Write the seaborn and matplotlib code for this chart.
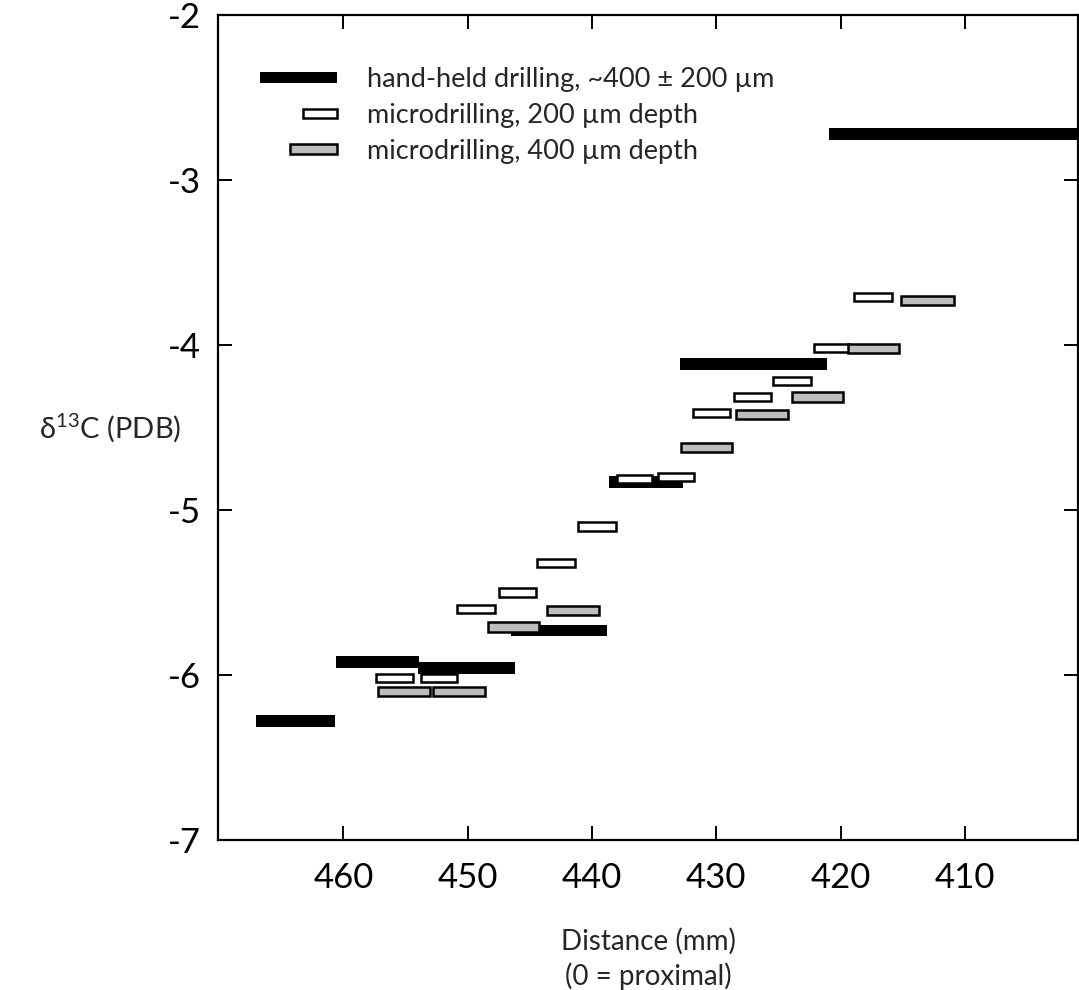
import numpy as np
import seaborn as sns
import matplotlib
matplotlib.use("Agg")
import matplotlib.pyplot as plt
from matplotlib.patches import Rectangle
from matplotlib.legend_handler import HandlerPatch

# hand-held drilling: distance range (mm) and d13C
hand_start = [467.0, 460.6, 454.0, 446.5, 438.6, 432.9, 420.9]
hand_end = [460.7, 453.9, 446.2, 438.8, 432.7, 421.1, 401.0]
hand_d13c = [-6.28, -5.92, -5.955, -5.73, -4.83, -4.115, -2.72]

# microdrilling, 200 um depth
micro200_start = [457.4, 453.8, 450.9, 447.5, 444.4, 441.1, 438.0, 434.7, 431.9, 428.6, 425.4, 422.1, 418.9]
micro200_end = [454.4, 450.9, 447.8, 444.5, 441.4, 438.1, 435.2, 431.8, 428.9, 425.6, 422.4, 419.3, 415.9]
micro200_d13c = [-6.02, -6.02, -5.60, -5.50, -5.32, -5.10, -4.81, -4.80, -4.41, -4.315, -4.22, -4.02, -3.71]

# microdrilling, 400 um depth
micro400_start = [457.2, 452.8, 448.4, 443.6, 432.8, 428.4, 423.9, 419.4, 415.1]
micro400_end = [453.0, 448.6, 444.3, 439.4, 428.7, 424.2, 419.8, 415.3, 410.9]
micro400_d13c = [-6.10, -6.10, -5.71, -5.61, -4.62, -4.42, -4.315, -4.02, -3.73]

labels = ["hand-held drilling, ~400 ± 200 µm",
          "microdrilling, 200 µm depth",
          "microdrilling, 400 µm depth"]

sns.set_style("ticks")
plt.rcParams['font.family'] = ['Lato', 'DejaVu Sans']
plt.rcParams['mathtext.fontset'] = 'custom'
plt.rcParams['mathtext.rm'] = 'Lato'
plt.rcParams['axes.unicode_minus'] = False

fig = plt.figure(figsize=(10.79, 9.9), dpi=100)
ax = fig.add_axes([0.202, 0.1515, 0.797, 0.8333])

gray = "#bdbdbd"

ax.barh(hand_d13c, np.subtract(hand_end, hand_start), left=hand_start,
        height=0.072, color="black", linewidth=0)
ax.barh(micro200_d13c, np.subtract(micro200_end, micro200_start), left=micro200_start,
        height=0.05, facecolor="white", edgecolor="black", linewidth=1.8)
ax.barh(micro400_d13c, np.subtract(micro400_end, micro400_start), left=micro400_start,
        height=0.058, facecolor=gray, edgecolor="black", linewidth=1.8)

ax.set_xlim(470.1, 400.9)
ax.set_ylim(-7, -2)
ax.set_xticks([460, 450, 440, 430, 420, 410])
ax.set_yticks([-7, -6, -5, -4, -3, -2])

for s in ax.spines.values():
    s.set_linewidth(1.6)
    s.set_color("black")
    s.set_visible(True)

ax.tick_params(axis="both", direction="in", length=10, width=1.4,
               top=True, right=True, labelsize=25, colors="black")
ax.tick_params(axis="x", pad=16)
ax.tick_params(axis="y", pad=12)

ax.set_xlabel("Distance (mm)\n(0 = proximal)", fontsize=20, labelpad=24,
              linespacing=1.35)
ax.set_ylabel(r"$\mathregular{\delta^{13}}$C (PDB)", fontsize=21, rotation=0,
              ha="center", va="center")
ax.yaxis.set_label_coords(-0.125, 0.5)


# legend with right-aligned keys of different widths
def key_patch(legend, orig_handle, xdescent, ydescent, width, height, fontsize):
    w = width * orig_handle.get_width()
    h = height * orig_handle.get_height()
    return Rectangle((-xdescent + width - w, -ydescent + (height - h) / 2), w, h)


handles = [
    Rectangle((0, 0), 1.0, 0.62, facecolor="black", edgecolor="black", linewidth=0),
    Rectangle((0, 0), 0.44, 0.5, facecolor="white", edgecolor="black", linewidth=1.8),
    Rectangle((0, 0), 0.61, 0.55, facecolor=gray, edgecolor="black", linewidth=1.8),
]
ax.legend(handles, labels, loc="upper left", bbox_to_anchor=(0.049, 0.937),
          frameon=False, fontsize=19.5, handlelength=2.85, handleheight=0.7,
          handletextpad=1.1, labelspacing=0.4, borderpad=0, borderaxespad=0,
          handler_map={Rectangle: HandlerPatch(patch_func=key_patch)})

fig.savefig("out.png", dpi=100)
